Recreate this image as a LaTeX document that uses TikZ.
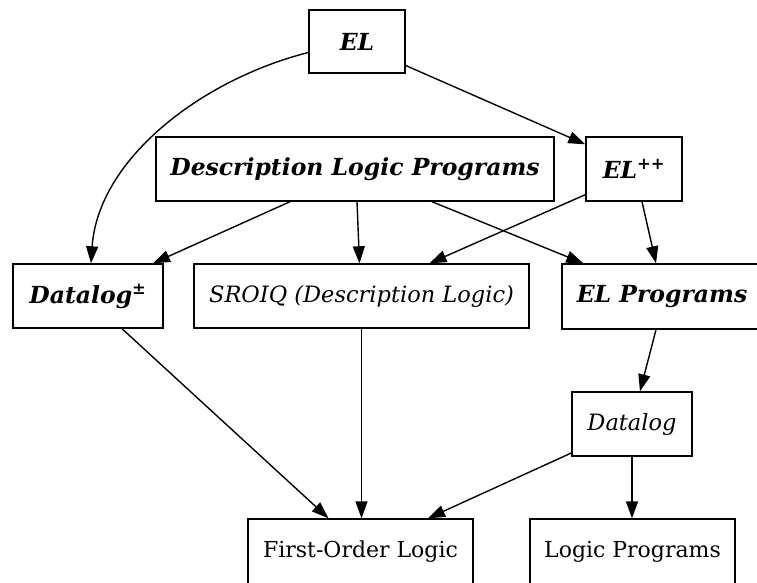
\documentclass[tikz,border=0pt]{standalone}
\usepackage{fontspec}
\setmainfont{DejaVu Serif}
\usetikzlibrary{arrows.meta}
\tikzset{
  box/.style={draw, line width=1.4pt, inner sep=0pt, font=\fontsize{22}{26}\selectfont},
  bi/.style={font=\fontsize{23.5}{28}\selectfont\bfseries\itshape},
  it/.style={font=\fontsize{22.5}{27}\selectfont\itshape},
  edge/.style={line width=1.4pt, -{Triangle[length=17pt,width=12pt]}},
}
\begin{document}
\begin{tikzpicture}[x=1pt,y=-1pt]
\useasboundingbox (0,0) rectangle (757,583);
\node[box, bi, minimum width=96pt, minimum height=63pt] (EL) at (357,41.5) {EL};
\node[box, bi, minimum width=398pt, minimum height=64pt] (DLP) at (355,169) {Description Logic Programs};
\node[box, bi, minimum width=96pt, minimum height=64pt] (ELp) at (634,169) {EL\textsuperscript{++}};
\node[box, bi, minimum width=150pt, minimum height=64pt] (DLpm) at (88,296) {Datalog\textsuperscript{±}};
\node[box, it, minimum width=335pt, minimum height=64pt] (SROIQ) at (361.5,296) {SROIQ (Description Logic)};
\node[box, bi, minimum width=200pt, minimum height=65pt] (ELP) at (662,296.5) {EL Programs};
\node[box, it, minimum width=120pt, minimum height=64pt] (DL) at (632,424) {Datalog};
\node[box, minimum width=225pt, minimum height=65pt] (FOL) at (360.5,551.5) {First-Order Logic};
\node[box, minimum width=205pt, minimum height=65pt] (LP) at (632.5,551.5) {Logic Programs};

\draw[edge] ([yshift=-11pt]EL.west) .. controls (200,80) and (98,160) .. ([xshift=3pt]DLpm.north);
\draw[edge] ([yshift=-24pt]EL.east) -- ([yshift=-8pt]ELp.north west);
\draw[edge] ([xshift=-65pt]DLP.south) -- ([xshift=65pt]DLpm.north);
\draw[edge] ([xshift=2pt]DLP.south) -- ([xshift=-2pt]SROIQ.north);
\draw[edge] ([xshift=77pt]DLP.south) -- ([xshift=22pt]ELP.north west);
\draw[edge] ([yshift=7pt]ELp.south west) -- ([xshift=68pt]SROIQ.north);
\draw[edge] ([xshift=8pt]ELp.south) -- ([xshift=-6pt]ELP.north);
\draw[edge] ([xshift=-6pt]ELP.south) -- ([xshift=8pt]DL.north);
\draw[edge] ([xshift=34pt]DLpm.south) -- ([xshift=-32pt]FOL.north);
\draw[edge] (SROIQ.south) -- (SROIQ.south |- FOL.north);
\draw[edge] ([yshift=-29pt]DL.west) -- ([xshift=67.5pt]FOL.north);
\draw[edge] (DL.south) -- (DL.south |- LP.north);
\end{tikzpicture}
\end{document}
